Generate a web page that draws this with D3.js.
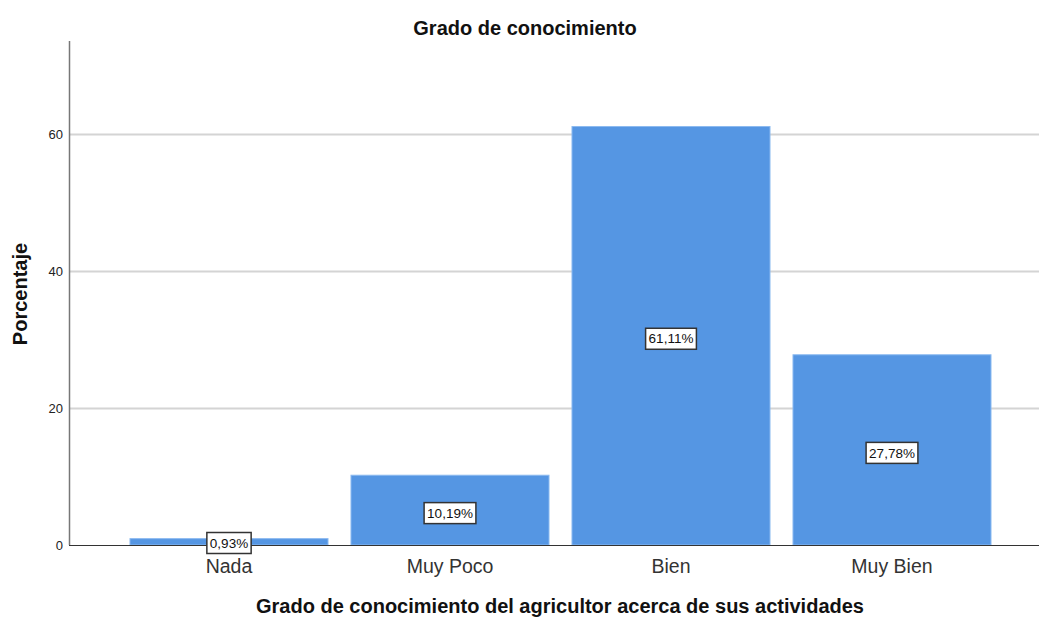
<!DOCTYPE html>
<html>
<head>
<meta charset="utf-8">
<script src="https://cdn.jsdelivr.net/npm/d3@7"></script>
<style>
  body { margin: 0; background: #fff; }
  text { font-family: "Liberation Sans", Arial, sans-serif; }
</style>
</head>
<body>
<div id="chart"></div>
<script>
var categories = ["Nada", "Muy Poco", "Bien", "Muy Bien"];
var values = [0.93, 10.19, 61.11, 27.78];
var labels = ["0,93%", "10,19%", "61,11%", "27,78%"];
var yTicks = [0, 20, 40, 60];

var width = 1039,
    height = 617,
    margin = {top: 41, right: 0, bottom: 72, left: 69};

var svg = d3.select("#chart").append("svg")
  .attr("width", width)
  .attr("height", height);

var x = d3.scaleBand()
  .domain(categories)
  .range([118.5, 1002.5])
  .paddingInner(0.104)
  .paddingOuter(0.052);

var y = d3.scaleLinear()
  .domain([0, 73.6])
  .range([height - margin.bottom, margin.top]);

// gridlines
svg.selectAll("line.grid")
  .data(yTicks.filter(function(d){ return d > 0; }))
  .enter()
  .append("line")
  .attr("class", "grid")
  .attr("x1", margin.left)
  .attr("x2", width)
  .attr("y1", function(d){ return Math.round(y(d)) + 0.5; })
  .attr("y2", function(d){ return Math.round(y(d)) + 0.5; })
  .style("stroke", "#d4d4d4")
  .style("stroke-width", 2);

// bars
svg.selectAll("rect.bar")
  .data(values)
  .enter()
  .append("rect")
  .attr("class", "bar")
  .attr("x", function(d, i){ return x(categories[i]); })
  .attr("width", x.bandwidth())
  .attr("y", function(d){ return y(d); })
  .attr("height", function(d){ return y(0) - y(d); })
  .style("fill", "#5596e3")
  .style("stroke", "#8cbaf0")
  .style("stroke-width", 1);

// axes lines
svg.append("line")
  .attr("x1", margin.left + 0.5).attr("x2", margin.left + 0.5)
  .attr("y1", margin.top).attr("y2", y(0))
  .style("stroke", "#777").style("stroke-width", 1.5);

svg.append("line")
  .attr("x1", margin.left).attr("x2", width)
  .attr("y1", Math.round(y(0)) + 0.5).attr("y2", Math.round(y(0)) + 0.5)
  .style("stroke", "#333").style("stroke-width", 1.2);

// y tick labels
svg.selectAll("text.ytick")
  .data(yTicks)
  .enter()
  .append("text")
  .attr("class", "ytick")
  .attr("x", margin.left - 6)
  .attr("y", function(d){ return y(d); })
  .attr("dy", "0.35em")
  .attr("text-anchor", "end")
  .style("font-size", "13px")
  .style("fill", "#222")
  .text(function(d){ return d; });

// category labels
svg.selectAll("text.xcat")
  .data(categories)
  .enter()
  .append("text")
  .attr("class", "xcat")
  .attr("x", function(d){ return x(d) + x.bandwidth() / 2; })
  .attr("y", y(0) + 28)
  .attr("text-anchor", "middle")
  .style("font-size", "19.5px")
  .style("fill", "#333")
  .text(function(d){ return d; });

// value labels in boxes
var lab = svg.selectAll("g.vlabel")
  .data(values)
  .enter()
  .append("g")
  .attr("class", "vlabel")
  .attr("transform", function(d, i){
    var cy = (y(0) + y(d)) / 2 + 3;
    if (i === 0) cy = y(0) - 2;
    return "translate(" + (x(categories[i]) + x.bandwidth() / 2) + "," + cy + ")";
  });

lab.each(function(d, i){
  var g = d3.select(this);
  var t = g.append("text")
    .attr("text-anchor", "middle")
    .attr("dy", "0.35em")
    .style("font-size", "13.5px")
    .style("fill", "#111")
    .text(labels[i]);
  var w = t.node().getComputedTextLength();
  g.insert("rect", "text")
    .attr("x", -w / 2 - 3)
    .attr("y", -10.5)
    .attr("width", w + 6)
    .attr("height", 21)
    .style("fill", "#fff")
    .style("stroke", "#333")
    .style("stroke-width", 1.5);
});

// titles
svg.append("text")
  .attr("x", 525)
  .attr("y", 35)
  .attr("text-anchor", "middle")
  .style("font-size", "20px")
  .style("font-weight", "bold")
  .style("fill", "#111")
  .text("Grado de conocimiento");

svg.append("text")
  .attr("x", 560)
  .attr("y", 613)
  .attr("text-anchor", "middle")
  .style("font-size", "20px")
  .style("font-weight", "bold")
  .style("fill", "#111")
  .text("Grado de conocimiento del agricultor acerca de sus actividades");

svg.append("text")
  .attr("transform", "translate(27," + 294 + ") rotate(-90)")
  .attr("text-anchor", "middle")
  .style("font-size", "20px")
  .style("font-weight", "bold")
  .style("fill", "#111")
  .text("Porcentaje");
</script>
</body>
</html>
